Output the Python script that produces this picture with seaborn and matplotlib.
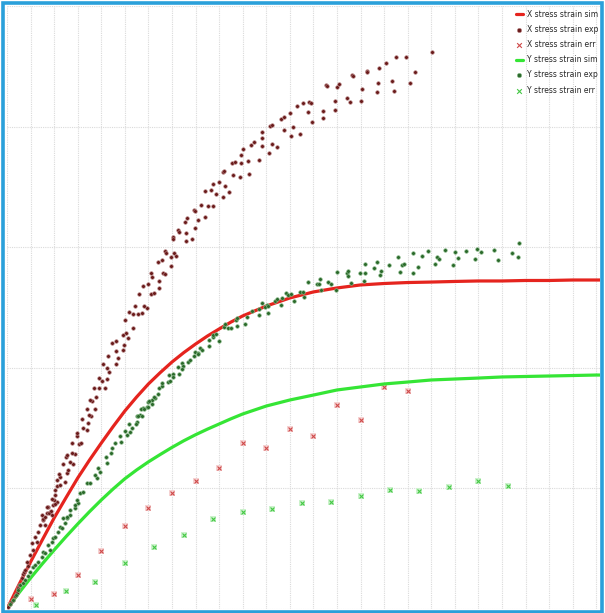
import numpy as np
import matplotlib
matplotlib.use("Agg")
import matplotlib.pyplot as plt
import seaborn as sns
from matplotlib.patches import Rectangle
from matplotlib.ticker import MultipleLocator

# simulated curves (strain in grid units, stress in grid*100)
sim_strain = [0, 0.5, 1, 1.5, 2, 2.5, 3, 3.5, 4, 4.5, 5, 5.5, 6, 6.5, 7, 7.5, 8, 8.5, 9,
              9.5, 10, 11, 12, 13, 14, 15, 16, 17, 18, 19, 20, 21, 22, 23, 24, 25, 25.2]
x_sim = [0, 19.9, 39.0, 57.4, 75.5, 92.2, 108.6, 123.5, 137.6, 151.2, 164.2, 175.8,
         186.6, 196.0, 204.8, 212.6, 219.7, 226.3, 232.2, 237.9, 243.0, 251.2,
         257.9, 262.9, 266.2, 268.7, 269.9, 270.7, 271.1, 271.6, 272.0, 272.0, 272.4,
         272.4, 272.8, 272.8, 272.8]
y_sim = [0, 13.2, 25.7, 37.5, 48.9, 59.9, 70.5, 80.7, 90.4, 99.5, 108.0, 115.3, 122.0,
         128.1, 134.0, 139.5, 144.5, 149.1, 153.4, 157.7, 161.7, 168.3,
         173.3, 177.4, 181.6, 184.1, 186.6, 188.2, 189.9, 190.7, 191.5, 192.4, 192.8,
         193.2, 193.6, 194.0, 194.0]

# error points
x_err_strain = [1, 2, 3, 4, 5, 6, 7, 8, 9, 10, 11, 12, 13, 14, 15, 16, 17]
x_err = [8.3, 12.4, 28.2, 48.1, 68.8, 83.7, 96.2, 106.1, 116.9, 137.6, 133.5, 149.3,
         143.4, 169.2, 156.7, 184.1, 180.8]
y_err_strain = [1.25, 2.5, 3.75, 5, 6.25, 7.5, 8.75, 10, 11.25, 12.5, 13.75, 15, 16.25,
                17.5, 18.75, 20, 21.25]
y_err = [3.3, 14.9, 22.4, 38.1, 51.4, 61.4, 74.6, 80.4, 82.9, 87.9, 88.7, 93.7, 98.7,
         97.8, 101.2, 106.1, 102.0]

x_exp_strain = [
    0.04, 0.13, 0.17, 0.27, 0.34, 0.41, 0.48, 0.51, 0.62, 0.68, 0.72, 0.76, 0.84, 0.89,
    0.98, 1.12, 1.05, 1.19, 1.26, 1.33, 1.40, 1.61, 1.54, 1.47, 1.68, 1.82, 1.75, 1.96,
    2.11, 1.51, 1.61, 1.77, 1.87, 1.90, 1.71, 2.05, 2.01, 1.90, 2.04, 2.02, 2.13, 2.25,
    2.46, 2.13, 2.25, 2.19, 2.53, 2.60, 2.79, 2.69, 2.36, 2.87, 2.76, 2.52, 2.55, 2.75,
    3.07, 3.14, 2.98, 2.96, 3.41, 3.24, 3.45, 3.19, 3.58, 3.49, 3.72, 3.41, 3.62, 3.52,
    3.78, 4.16, 3.89, 3.69, 4.26, 4.02, 3.89, 4.33, 4.24, 4.09, 4.64, 4.30, 4.72, 4.92,
    4.62, 4.98, 4.44, 4.62, 5.15, 5.05, 4.93, 5.36, 5.02, 5.74, 5.57, 5.36, 5.19, 5.94,
    5.83, 5.43, 5.61, 5.78, 5.97, 6.10, 6.22, 6.44, 6.45, 6.10, 6.14, 6.39, 6.58, 6.61,
    6.69, 6.70, 6.76, 6.95, 6.95, 7.10, 7.18, 7.03, 7.04, 7.27, 7.28, 7.58, 7.61, 7.84,
    7.96, 7.55, 7.65, 7.92, 7.98, 8.10, 8.24, 8.41, 8.54, 8.73, 8.41, 8.64, 8.75, 8.88,
    8.98, 9.16, 9.25, 9.41, 9.15, 9.21, 9.60, 9.89, 10.25, 9.53, 9.66, 9.92, 10.22, 9.94,
    10.03, 10.35, 10.48, 10.70, 10.81, 10.81, 10.82, 11.12, 11.24, 11.47, 11.15, 11.23,
    11.75, 12.15, 12.06, 12.43, 11.62, 11.77, 12.01, 12.32, 12.57, 12.76, 12.83, 12.90,
    12.95, 13.39, 13.42, 13.53, 13.59, 13.90, 13.90, 14.00, 14.10, 14.41, 14.57, 14.62,
    14.69, 15.05, 15.01, 15.26, 15.27, 15.77, 16.08, 15.73, 15.70, 16.33, 16.41, 16.52,
    16.93, 17.31, 17.10, 18.03]
x_exp = [
    1.7, 4.1, 5.8, 7.5, 10.8, 13.0, 17.2, 19.9, 25.5, 29.0, 30.7, 32.3, 39.2, 35.6,
    44.8, 48.9, 54.5, 59.9, 55.8, 64.1, 69.6, 69.6, 73.8, 77.9, 79.3, 80.7, 84.8, 86.2,
    89.0, 74.6, 76.5, 79.3, 81.5, 77.9, 84.8, 87.0, 90.4, 91.2, 94.5, 98.7, 102.2, 102.5,
    105.5, 106.7, 109.2, 111.9, 112.5, 115.0, 120.0, 121.6, 120.2, 128.2, 129.1, 126.3,
    127.7, 137.9, 136.8, 137.9, 143.7, 146.2, 148.4, 149.8, 153.9, 157.5, 159.7, 160.8,
    165.8, 165.8, 172.4, 173.3, 176.0, 183.5, 183.2, 183.5, 190.9, 189.0, 191.5, 196.5,
    200.0, 203.1, 202.9, 209.7, 207.8, 214.7, 214.1, 218.9, 220.8, 222.4, 224.9, 228.8,
    226.9, 232.7, 239.6, 245.1, 244.3, 244.6, 246.0, 249.3, 251.4, 251.4, 260.9, 267.8,
    269.2, 260.9, 261.7, 266.4, 271.9, 278.5, 275.5, 287.4, 289.3, 278.3, 277.5, 297.0,
    294.9, 292.1, 284.6, 295.1, 292.9, 308.6, 306.5, 314.2, 312.8, 311.5, 304.8, 307.0,
    316.1, 320.8, 324.4, 330.8, 329.9, 322.5, 335.2, 324.7, 334.1, 334.1, 346.8, 347.4,
    352.1, 344.0, 354.0, 341.8, 350.7, 345.7, 362.3, 363.4, 359.8, 358.1, 360.4, 370.0,
    370.8, 369.5, 371.6, 376.1, 381.1, 384.4, 387.1, 372.0, 383.8, 390.2, 395.2, 377.8,
    385.7, 382.7, 400.2, 401.0, 396.8, 399.8, 391.9, 393.5, 406.0, 408.1, 410.9, 417.0,
    419.7, 411.8, 420.0, 419.2, 403.7, 412.6, 407.3, 434.2, 433.3, 421.1, 413.7, 433.0,
    435.2, 423.9, 420.0, 442.7, 441.6, 431.1, 421.1, 446.3, 445.4, 448.8, 452.6, 436.3,
    428.3, 438.0, 429.2, 457.9, 457.4, 445.4, 436.3, 461.8]

y_exp_strain = [
    0.13, 0.25, 0.38, 0.47, 0.55, 0.68, 0.76, 0.89, 0.98, 1.12, 1.19, 1.33, 1.47, 1.53,
    1.61, 1.74, 1.82, 1.90, 1.95, 2.04, 2.18, 2.25, 2.33, 2.46, 2.53, 2.67, 2.88, 3.03,
    2.39, 2.53, 2.67, 2.88, 2.98, 3.10, 3.24, 3.41, 3.52, 3.81, 3.73, 3.95, 3.87, 4.26,
    4.20, 4.40, 4.45, 4.58, 4.82, 4.79, 5.08, 5.01, 5.18, 5.29, 5.53, 5.50, 5.64, 5.93,
    5.78, 5.97, 6.14, 6.28, 5.22, 5.47, 5.57, 5.71, 5.69, 5.81, 5.99, 6.02, 6.14, 6.24,
    6.42, 6.45, 6.59, 6.59, 6.82, 6.92, 6.89, 7.06, 7.06, 7.30, 7.27, 7.41, 7.48, 7.44,
    7.69, 7.76, 7.93, 7.98, 8.12, 8.19, 8.09, 8.26, 8.56, 8.57, 8.74, 8.75, 8.87, 9.01,
    9.19, 9.24, 9.36, 9.49, 9.72, 9.75, 9.77, 10.10, 10.20, 10.39, 10.68, 10.83, 10.70,
    11.02, 11.09, 10.95, 11.06, 11.37, 11.44, 11.62, 11.65, 11.82, 11.93, 12.05, 12.19,
    12.43, 12.55, 12.60, 12.76, 13.14, 13.25, 13.27, 13.32, 13.61, 13.75, 13.96, 13.99,
    14.41, 14.47, 14.45, 14.59, 14.96, 15.19, 15.16, 15.20, 15.57, 15.70, 15.83, 15.87,
    16.19, 16.59, 16.66, 16.76, 16.84, 17.24, 17.23, 17.44, 17.62, 17.85, 18.16, 18.26,
    18.32, 18.57, 18.94, 19.02, 19.15, 19.47, 19.86, 19.94, 20.11, 20.67, 20.82, 21.44,
    21.68, 21.74]
y_exp = [
    4.1, 7.5, 11.6, 15.8, 19.9, 21.6, 24.0, 27.4, 30.9, 35.1, 36.5, 39.2, 43.4, 47.3,
    46.2, 53.1, 48.9, 55.8, 58.9, 59.9, 64.1, 68.2, 67.1, 71.0, 75.2, 77.9, 83.5, 87.6,
    75.2, 76.5, 82.1, 86.2, 90.4, 95.9, 97.2, 104.2, 104.7, 108.4, 111.1, 113.8, 116.6,
    120.8, 126.3, 129.1, 133.2, 137.4, 138.7, 143.7, 144.2, 147.8, 153.1, 149.8, 155.3,
    160.0, 160.8, 167.7, 166.4, 171.9, 173.3, 174.7, 147.0, 153.4, 160.0, 159.8, 165.8,
    166.1, 167.7, 172.4, 169.9, 175.5, 178.0, 183.0, 184.9, 187.1, 188.2, 189.3, 193.7,
    194.8, 192.1, 194.8, 200.4, 203.9, 201.7, 199.2, 204.8, 206.4, 209.7, 213.3, 212.5,
    216.1, 211.4, 214.7, 218.0, 222.8, 225.7, 227.1, 228.0, 221.9, 234.0, 236.0, 232.7,
    232.7, 239.6, 234.6, 241.0, 236.0, 241.8, 247.0, 248.4, 253.4, 243.7, 252.3, 245.1,
    250.1, 251.2, 255.6, 256.7, 252.0, 257.6, 261.7, 260.1, 261.1, 255.1, 263.0, 262.8,
    258.4, 271.1, 269.4, 269.4, 273.3, 264.5, 271.1, 269.4, 264.5, 279.6, 278.3, 280.5,
    276.3, 270.5, 278.3, 278.3, 271.9, 286.0, 282.4, 287.7, 276.9, 280.5, 284.9, 292.1,
    279.6, 285.2, 285.8, 278.3, 294.9, 283.3, 292.6, 296.5, 285.8, 292.1, 290.2, 297.6,
    285.2, 295.7, 291.0, 297.0, 290.4, 298.7, 296.0, 297.6, 289.6, 295.4, 291.6, 303.2]

labels = ["X stress strain sim", "X stress strain exp", "X stress strain err",
          "Y stress strain sim", "Y stress strain exp", "Y stress strain err"]

sns.set_style("white")
plt.rcParams['font.family'] = ['DejaVu Sans']

fig = plt.figure(figsize=(6.05, 6.13), dpi=100)
ax = fig.add_axes([7 / 605, 4 / 613, 593 / 605, 603 / 613])

sns.lineplot(x=sim_strain, y=x_sim, ax=ax, color="#e5241e", lw=2.3, label=labels[0], zorder=3)
sns.scatterplot(x=x_exp_strain, y=x_exp, ax=ax, color="#6a1c1c", s=7, edgecolor="#c09090",
                linewidth=0.4, label=labels[1], zorder=4)
ax.scatter(x_err_strain, x_err, marker="s", s=14, color="#f5d2d2", lw=0, zorder=2)
sns.scatterplot(x=x_err_strain, y=x_err, ax=ax, marker="x", s=8, color="#cf4a4a",
                linewidth=0.8, label=labels[2], zorder=3)
sns.lineplot(x=sim_strain, y=y_sim, ax=ax, color="#35e535", lw=2.3, label=labels[3], zorder=3)
sns.scatterplot(x=y_exp_strain, y=y_exp, ax=ax, color="#2c6a2c", s=7, edgecolor="#90c090",
                linewidth=0.4, label=labels[4], zorder=4)
ax.scatter(y_err_strain, y_err, marker="s", s=14, color="#ccf2cc", lw=0, zorder=2)
sns.scatterplot(x=y_err_strain, y=y_err, ax=ax, marker="x", s=8, color="#45c845",
                linewidth=0.8, label=labels[5], zorder=3)

ax.set_xlim(0, 25.16)
ax.set_ylim(0, 500)
ax.xaxis.set_major_locator(MultipleLocator(1))
ax.yaxis.set_major_locator(MultipleLocator(100))
ax.grid(True, color="#dadada", linestyle=(0, (1, 1)), linewidth=0.8)
ax.tick_params(length=0, labelbottom=False, labelleft=False)
ax.set_xlabel("")
ax.set_ylabel("")
for sp in ax.spines.values():
    sp.set_visible(False)

leg = ax.legend(loc="upper right", bbox_to_anchor=(598 / 605, 1 - 10 / 613),
                bbox_transform=fig.transFigure, frameon=False, fontsize=5.5,
                labelspacing=0.8, handlelength=0.9, handletextpad=0.5,
                borderpad=0, borderaxespad=0, markerscale=1.2)

fig.add_artist(Rectangle((3 / 605, 1.5 / 613), 599 / 605, 608.5 / 613,
                         transform=fig.transFigure, fill=False,
                         edgecolor="#2aa0da", linewidth=2.6))

fig.savefig("out.png", dpi=100)
